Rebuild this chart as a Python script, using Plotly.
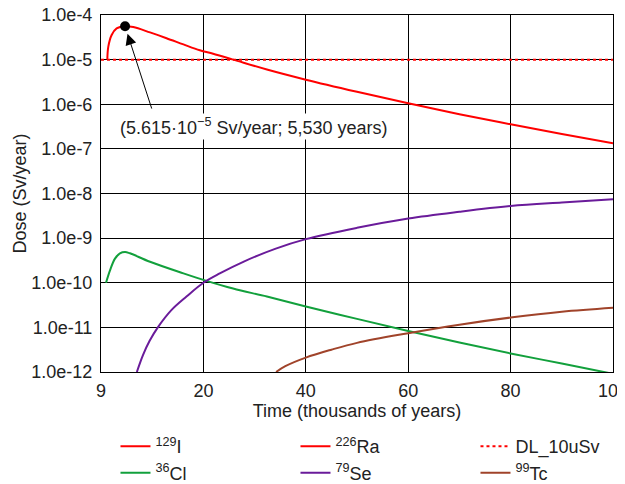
import math
import plotly.graph_objects as go

# ---- data (time in thousands of years, dose in Sv/year) ----
i129_time = [1.23, 1.43, 2.08, 3.05, 4.7, 6.3, 9.57, 12.8, 16.1, 19.3, 21.9, 25.8, 32.4, 40, 50, 60, 70, 80, 90, 100]
i129_dose = [1.0e-5, 1.95e-5, 3.55e-5, 5.0e-5, 5.615e-5, 5.37e-5, 4.07e-5, 3.02e-5, 2.19e-5, 1.62e-5, 1.35e-5,
             1.0e-5, 6.0e-6, 3.55e-6, 1.9e-6, 1.05e-6, 6.0e-7, 3.55e-7, 2.16e-7, 1.33e-7]

ra226_time = [0, 100]
ra226_dose = [1.0e-14, 1.0e-14]   # below the plotted range (not visible in the chart)

dl_time = [0, 100]
dl_dose = [1.0e-5, 1.0e-5]

cl36_time = [0.98, 1.76, 2.73, 3.7, 4.7, 5.66, 9.57, 16.1, 20.6, 25.8, 32.4, 40, 50, 60, 70, 80, 90, 100]
cl36_dose = [1.0e-10, 1.9e-10, 3.47e-10, 4.57e-10, 4.9e-10, 4.57e-10, 2.95e-10, 1.62e-10, 1.1e-10, 7.4e-11,
             4.9e-11, 2.95e-11, 1.55e-11, 8.3e-12, 4.57e-12, 2.6e-12, 1.55e-12, 9.1e-13]

se79_time = [7.0, 8.2, 9.5, 11.1, 13.7, 16.7, 20, 23.2, 28, 34, 40, 50, 60, 70, 80, 90, 100]
se79_dose = [1.0e-12, 2.4e-12, 5.0e-12, 1.0e-11, 2.4e-11, 4.9e-11, 1.0e-10, 1.62e-10, 3.02e-10, 5.75e-10,
             9.5e-10, 1.7e-9, 2.75e-9, 3.9e-9, 5.25e-9, 6.3e-9, 7.4e-9]

tc99_time = [34.2, 36, 40, 45, 50, 60, 70, 80, 90, 100]
tc99_dose = [1.0e-12, 1.35e-12, 2.1e-12, 3.16e-12, 4.5e-12, 7.4e-12, 1.15e-11, 1.66e-11, 2.24e-11, 2.75e-11]

peak_time = [4.7]
peak_dose = [5.615e-5]
peak_label = "(5.615·10<sup>−5</sup> Sv/year; 5,530 years)"

x_tickvals = [0, 20, 40, 60, 80, 100]
x_ticktext = ["9", "20", "40", "60", "80", "100"]
y_tickvals = [1e-12, 1e-11, 1e-10, 1e-9, 1e-8, 1e-7, 1e-6, 1e-5, 1e-4]
y_ticktext = ["1.0e-12", "1.0e-11", "1.0e-10", "1.0e-9", "1.0e-8", "1.0e-7", "1.0e-6", "1.0e-5", "1.0e-4"]

RED = "#ff0000"
GREEN = "#12a03c"
PURPLE = "#6a1b9a"
BROWN = "#a0432a"
FONT = "Liberation Sans, Arial, sans-serif"
TXT = "#222222"

fig = go.Figure()
fig.add_trace(go.Scatter(x=i129_time, y=i129_dose, mode="lines", name="<sup>129</sup>I",
                         line=dict(color=RED, width=2, shape="spline")))
fig.add_trace(go.Scatter(x=ra226_time, y=ra226_dose, mode="lines", name="<sup>226</sup>Ra",
                         line=dict(color=RED, width=2)))
fig.add_trace(go.Scatter(x=dl_time, y=dl_dose, mode="lines", name="DL_10uSv",
                         line=dict(color=RED, width=2, dash="dot")))
fig.add_trace(go.Scatter(x=cl36_time, y=cl36_dose, mode="lines", name="<sup>36</sup>Cl",
                         line=dict(color=GREEN, width=2, shape="spline")))
fig.add_trace(go.Scatter(x=se79_time, y=se79_dose, mode="lines", name="<sup>79</sup>Se",
                         line=dict(color=PURPLE, width=2, shape="spline")))
fig.add_trace(go.Scatter(x=tc99_time, y=tc99_dose, mode="lines", name="<sup>99</sup>Tc",
                         line=dict(color=BROWN, width=2, shape="spline")))
fig.add_trace(go.Scatter(x=peak_time, y=peak_dose, mode="markers", showlegend=False,
                         marker=dict(color="black", size=10)))

fig.add_annotation(x=peak_time[0], y=math.log10(peak_dose[0]), xref="x", yref="y",
                   ax=10.0, ay=-6.13, axref="x", ayref="y", text="",
                   showarrow=True, arrowhead=2, arrowsize=2.2, arrowwidth=1, arrowcolor="black",
                   standoff=8)
fig.add_annotation(x=3.4, y=-6.5, xref="x", yref="y", text=peak_label, showarrow=False,
                   xanchor="left", yanchor="middle", bgcolor="white",
                   font=dict(size=18, color=TXT, family=FONT))

fig.update_xaxes(range=[0, 100], tickvals=x_tickvals, ticktext=x_ticktext,
                 showgrid=True, gridcolor="black", gridwidth=1, zeroline=False,
                 showline=True, linecolor="black", linewidth=1, mirror=True,
                 ticks="", ticklabelstandoff=2, ticklabeloverflow="allow", automargin=False,
                 title=dict(text="Time (thousands of years)", standoff=4,
                            font=dict(size=18, color=TXT, family=FONT)),
                 tickfont=dict(size=18, color=TXT, family=FONT))
fig.update_yaxes(type="log", range=[-12, -4], tickvals=y_tickvals, ticktext=y_ticktext,
                 showgrid=True, gridcolor="black", gridwidth=1, zeroline=False,
                 showline=True, linecolor="black", linewidth=1, mirror=True,
                 ticks="", ticklabelstandoff=4, ticklabeloverflow="allow", automargin=False,
                 title=dict(text="Dose (Sv/year)", standoff=0,
                            font=dict(size=18, color=TXT, family=FONT)),
                 tickfont=dict(size=18, color=TXT, family=FONT))

fig.update_layout(
    width=617, height=476,
    margin=dict(l=93, r=12, t=7, b=112, autoexpand=False),
    plot_bgcolor="white", paper_bgcolor="white",
    font=dict(family=FONT, size=18, color=TXT),
    legend=dict(orientation="h", x=-0.001, xanchor="left", y=-0.157, yanchor="top",
                entrywidth=120, entrywidthmode="pixels", traceorder="normal",
                indentation=15,
                font=dict(size=18, family=FONT, color=TXT),
                bgcolor="rgba(0,0,0,0)", tracegroupgap=0),
)

fig.write_html("out.html")
